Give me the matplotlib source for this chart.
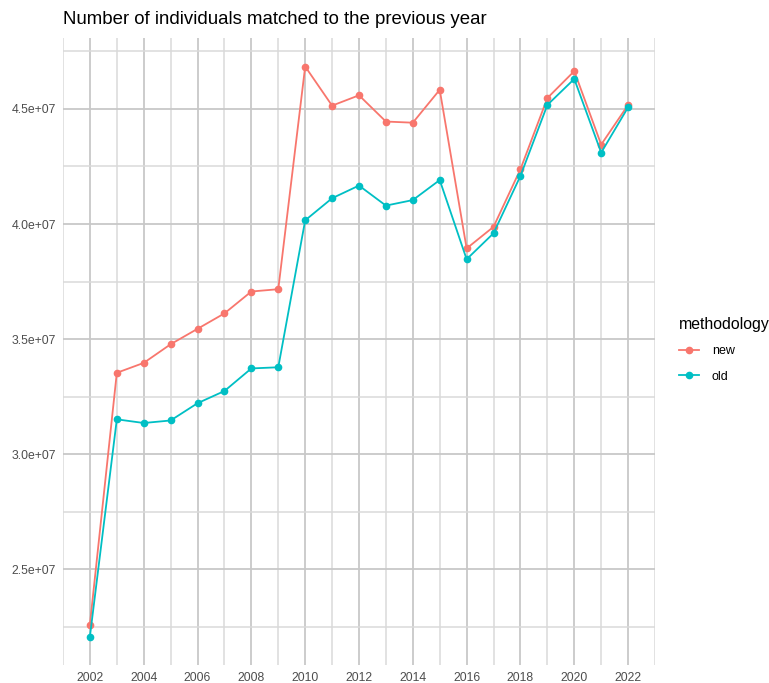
import matplotlib
matplotlib.use("Agg")
import matplotlib.pyplot as plt
from matplotlib.ticker import FixedLocator, FuncFormatter

plt.rcParams['font.family'] = ['Liberation Sans', 'DejaVu Sans']

years = list(range(2002, 2023))
new_vals = [2.261e7, 3.354e7, 3.397e7, 3.478e7, 3.545e7, 3.612e7, 3.707e7, 3.717e7,
            4.684e7, 4.514e7, 4.559e7, 4.445e7, 4.440e7, 4.583e7, 3.894e7, 3.988e7,
            4.238e7, 4.547e7, 4.664e7, 4.345e7, 4.517e7]
old_vals = [2.209e7, 3.152e7, 3.136e7, 3.147e7, 3.222e7, 3.275e7, 3.373e7, 3.378e7,
            4.016e7, 4.112e7, 4.167e7, 4.080e7, 4.104e7, 4.191e7, 3.847e7, 3.960e7,
            4.209e7, 4.517e7, 4.630e7, 4.310e7, 4.507e7]
x_major = list(range(2002, 2023, 2))
x_minor = list(range(2001, 2024, 2))
y_major = [2.5e7, 3.0e7, 3.5e7, 4.0e7, 4.5e7]
y_minor = [2.25e7, 2.75e7, 3.25e7, 3.75e7, 4.25e7, 4.75e7]

fig = plt.figure(figsize=(7.69, 6.83), dpi=100)
ax = fig.add_axes([63 / 769, 18 / 683, 592 / 769, 627 / 683])

ax.plot(years, new_vals, c='#F8766D', lw=1.3, marker='o', ms=4.5, label="new", zorder=3)
ax.plot(years, old_vals, c='#00BFC4', lw=1.3, marker='o', ms=4.5, label="old", zorder=3)

lo = min(min(new_vals), min(old_vals))
hi = max(max(new_vals), max(old_vals))
pad = (hi - lo) * 0.05
ax.set_ylim(lo - pad, hi + pad)
ax.set_xlim(2001, 2023)

ax.xaxis.set_major_locator(FixedLocator(x_major))
ax.xaxis.set_minor_locator(FixedLocator(x_minor))
ax.yaxis.set_major_locator(FixedLocator(y_major))
ax.yaxis.set_minor_locator(FixedLocator(y_minor))
ax.yaxis.set_major_formatter(FuncFormatter(lambda v, p: f"{v:.1e}"))

ax.grid(which='major', color='#c8c8c8', lw=1.3)
ax.grid(which='minor', color='#dadada', lw=1.1)
ax.set_axisbelow(True)
for s in ax.spines.values():
    s.set_visible(False)
ax.tick_params(which='both', length=0, labelsize=8.8, labelcolor='#4d4d4d')
ax.tick_params(axis='x', pad=5)
ax.tick_params(axis='y', pad=5)

fig.text(63 / 769, 1 - 20 / 683, "Number of individuals matched to the previous year",
         fontsize=13.4, va='center', ha='left')

leg = fig.legend(loc='upper left', bbox_to_anchor=(668 / 769, 1 - 306 / 683),
                 frameon=False, title="methodology", fontsize=9,
                 title_fontsize=11.4, handlelength=1.6, handletextpad=1.0,
                 labelspacing=1.05, alignment='left')

fig.savefig("out.png", dpi=100)
